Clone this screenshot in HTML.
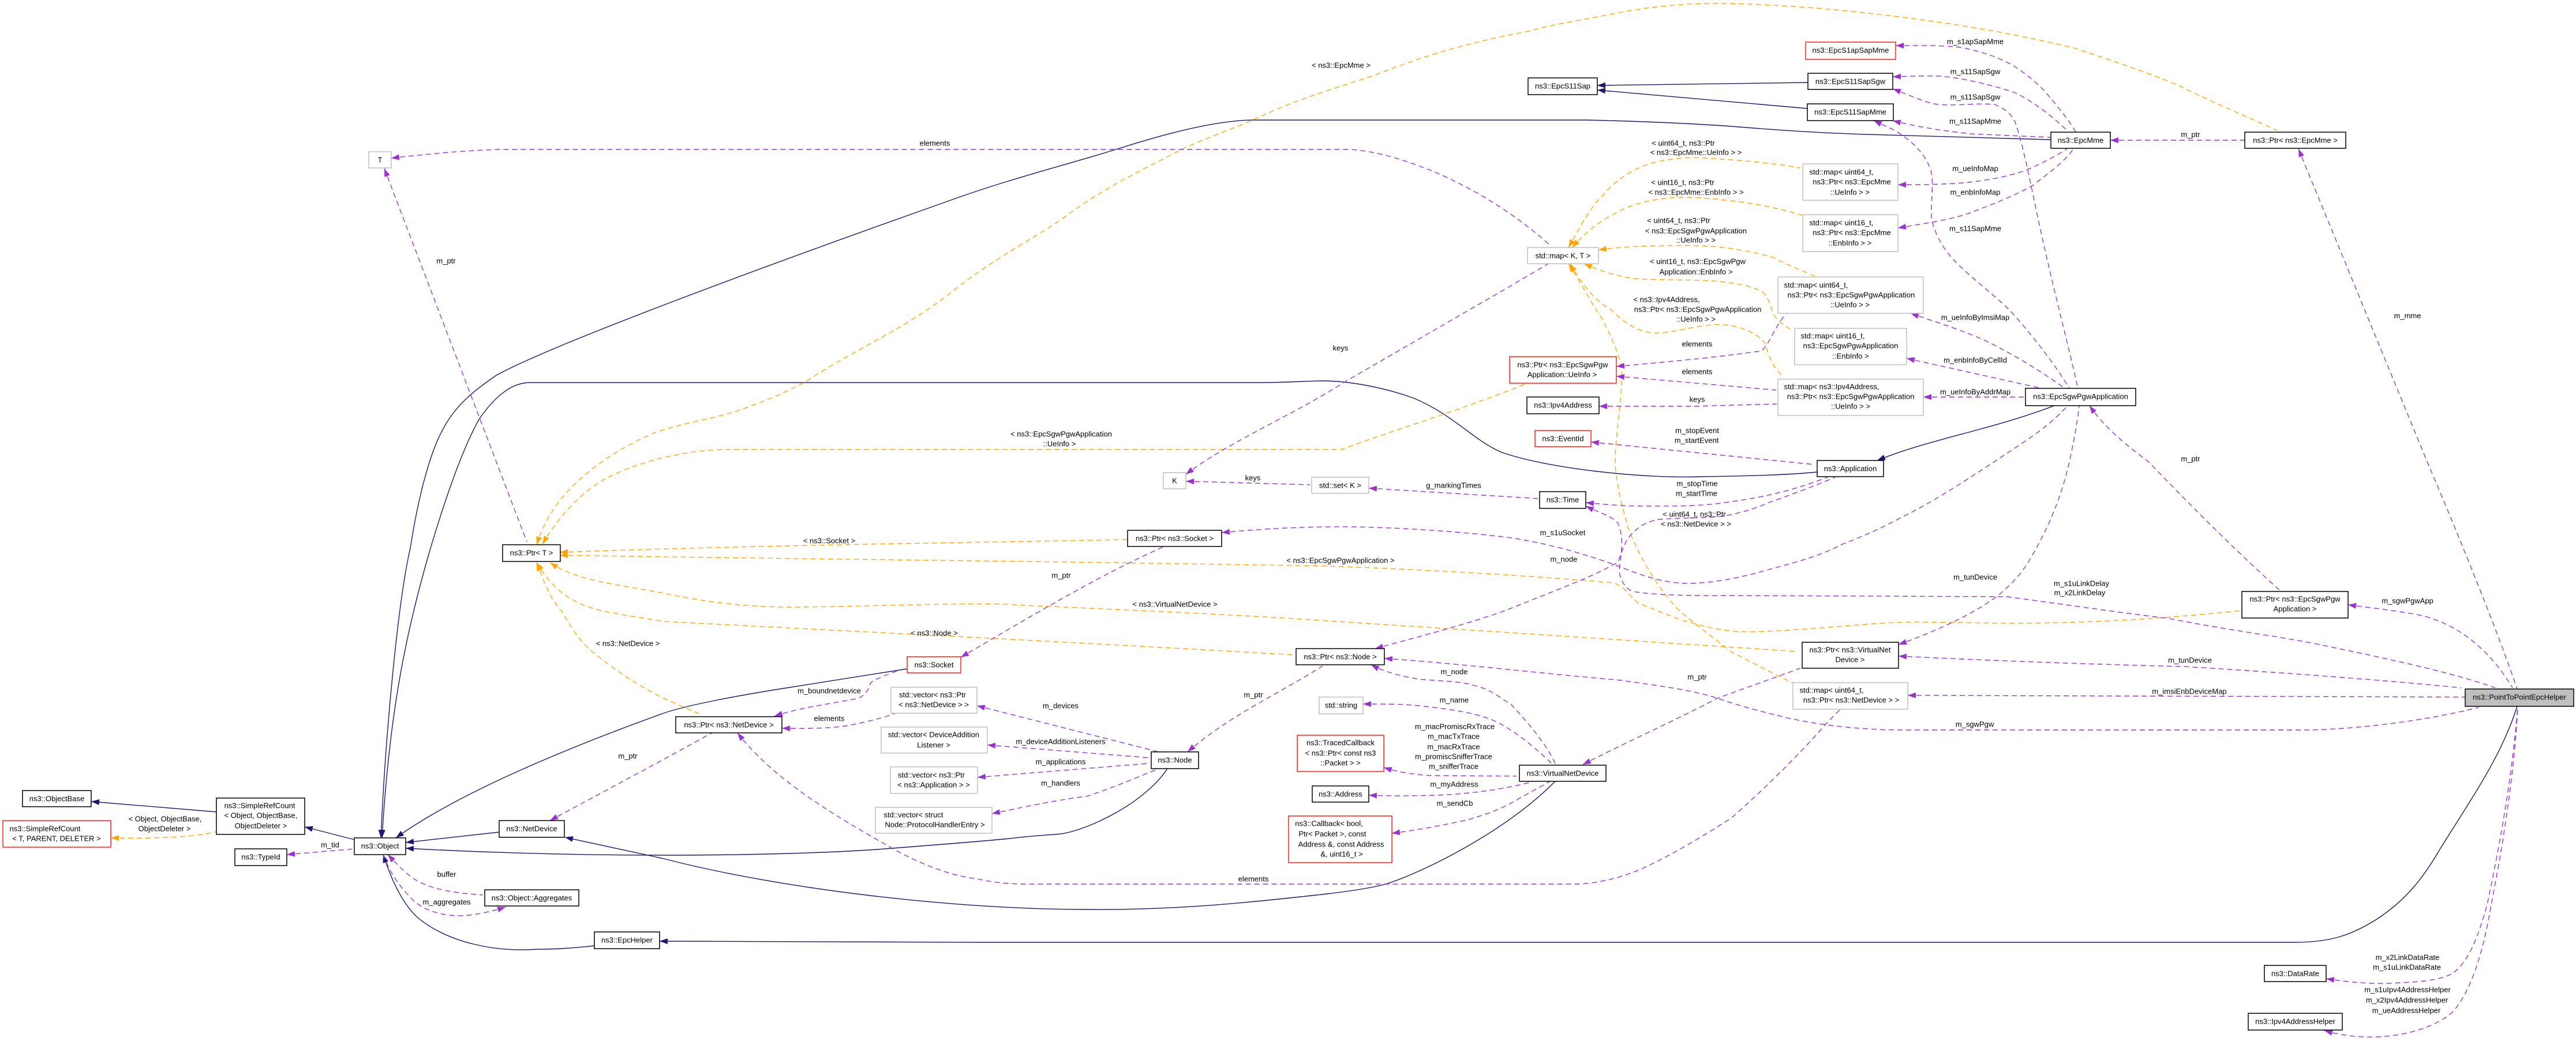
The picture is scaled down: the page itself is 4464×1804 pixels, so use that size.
<!DOCTYPE html>
<html><head><meta charset="utf-8">
<style>
html,body{margin:0;padding:0;background:#fff}
svg{display:block}
text{font-family:"Liberation Sans",Arial,sans-serif;font-size:13px;fill:#000;text-anchor:middle;dominant-baseline:central}
rect{fill:#fff;stroke-width:1.5}
.k{stroke:#000}.r{stroke:#ff2020}.g{stroke:#bfbfbf}
path{fill:none;stroke-width:1.4}
.n{stroke:#191970;marker-start:url(#an)}
.o{stroke:#ffa500;stroke-dasharray:9 6;marker-start:url(#ao)}
.p{stroke:#9a32cd;stroke-dasharray:9 6;marker-start:url(#ap)}
marker path{stroke:none}
</style></head><body>
<svg xmlns="http://www.w3.org/2000/svg" width="4464" height="1804" viewBox="0 0 4464 1804">
<defs>
<marker id="an" markerUnits="userSpaceOnUse" markerWidth="16" markerHeight="12" refX="14" refY="6" orient="auto-start-reverse"><path d="M0,1 L14,6 L0,11Z" style="fill:#191970"/></marker>
<marker id="ao" markerUnits="userSpaceOnUse" markerWidth="16" markerHeight="12" refX="14" refY="6" orient="auto-start-reverse"><path d="M0,1 L14,6 L0,11Z" style="fill:#ffa500"/></marker>
<marker id="ap" markerUnits="userSpaceOnUse" markerWidth="16" markerHeight="12" refX="14" refY="6" orient="auto-start-reverse"><path d="M0,1 L14,6 L0,11Z" style="fill:#9a32cd"/></marker>
</defs>

<!-- inheritance -->
<path class="n" d="M660,1452 C668,1270 690,1040 711,950 C725,860 745,785 767,745 C790,700 825,675 859,651 C950,600 1300,470 1650,346 C1750,310 1850,285 1937,258 C2040,225 2120,208 2173,208 L2747,208 C2850,210 2950,215 3014,220 C3100,227 3170,231 3238,233 L3553,242"/>
<path class="n" d="M662,1452 C675,1230 705,1090 746,950 C770,870 800,780 830,727 C855,690 885,663 918,663 L2180,663 C2230,663 2270,660 2290,660 C2340,660 2400,672 2450,690 C2520,720 2550,760 2600,783 C2680,812 2850,830 2950,826 C3030,825 3100,823 3149,818"/>
<path class="n" d="M3253,798 C3340,762 3450,745 3560,703"/>
<path class="n" d="M703,1460 L865,1442"/>
<path class="n" d="M686,1452 C800,1370 1000,1290 1150,1236 C1190,1222 1280,1205 1370,1191 L1572,1159"/>
<path class="n" d="M703,1470 C850,1478 1000,1482 1150,1482 C1300,1482 1450,1478 1546,1470 C1650,1462 1700,1458 1751,1453 C1790,1448 1820,1447 1839,1445 C1890,1437 1985,1390 2023,1332"/>
<path class="n" d="M979,1451 L1150,1488 C1350,1540 1650,1576 1883,1576 C2050,1578 2200,1560 2300,1549 C2350,1543 2380,1538 2402,1532 C2470,1510 2610,1440 2695,1354"/>
<path class="n" d="M664,1481 C680,1530 700,1570 726,1592 C780,1635 860,1650 931,1645 C970,1645 1000,1642 1030,1639"/>
<path class="n" d="M1143,1631 C1300,1633 1500,1633 1700,1633 L3976,1633 C4040,1633 4075,1620 4117,1594 C4170,1560 4200,1520 4228,1472 C4285,1380 4335,1310 4362,1224"/>
<path class="n" d="M528,1433 L614,1455"/>
<path class="n" d="M158,1389 L375,1407"/>
<path class="n" d="M2768,148 L3133,143"/>
<path class="n" d="M2768,156 L3132,188"/>

<!-- template -->
<path class="o" d="M192,1452 C240,1453 330,1453 375,1441"/>
<path class="o" d="M930,944 C950,880 990,840 1034,807 C1070,780 1100,765 1134,750 C1190,730 1250,725 1302,703 C1340,690 1370,675 1395,662 C1490,600 1570,570 1657,500 C1720,450 1780,420 1841,379 C1920,320 1990,290 2045,260 C2100,235 2140,222 2173,207 C2250,170 2310,155 2383,130 C2470,95 2560,70 2650,54 C2690,42 2750,33 2791,25 C2860,10 2930,5 2995,6 C3080,8 3170,15 3238,23 C3350,35 3480,55 3597,84 C3660,105 3720,125 3775,148 C3840,180 3900,205 3946,226"/>
<path class="o" d="M940,943 C965,900 1000,860 1040,835 C1090,805 1180,779 1262,779 L2325,779 C2400,750 2520,715 2647,664"/>
<path class="o" d="M970,957 C1300,945 1700,940 1954,935"/>
<path class="o" d="M970,962 C1300,968 1800,972 2300,981 C2500,988 2680,1000 2797,1010 C2820,1020 2825,1035 2840,1046 C2880,1060 2900,1072 2938,1081 C2980,1093 3010,1095 3033,1095 C3120,1093 3210,1082 3300,1078 C3380,1078 3430,1080 3486,1080 C3650,1080 3790,1068 3885,1058"/>
<path class="o" d="M953,975 C980,992 1000,998 1023,1004 C1070,1015 1110,1020 1150,1028 C1230,1045 1300,1052 1370,1052 C1450,1052 1650,1045 1737,1047 C1900,1055 2150,1065 2300,1076 C2600,1095 2900,1115 3116,1129"/>
<path class="o" d="M930,975 C950,1005 970,1040 1041,1058 C1080,1066 1110,1070 1150,1077 C1500,1095 1900,1115 2246,1135"/>
<path class="o" d="M930,975 C945,1015 955,1040 975,1061 C990,1090 1005,1110 1027,1130 C1070,1165 1110,1190 1150,1210 L1216,1239"/>
<path class="o" d="M2718,429 C2740,390 2755,360 2779,337 C2800,312 2825,296 2855,285 C2890,274 2925,272 2957,274 C3020,278 3070,282 3120,291"/>
<path class="o" d="M2724,429 C2755,395 2780,378 2810,364 C2850,345 2895,341 2932,342 C3000,346 3060,354 3123,373"/>
<path class="o" d="M2770,433 C2810,428 2840,426 2874,426 C2920,425 2960,425 2995,430 C3030,435 3050,440 3072,446 C3100,460 3125,470 3148,480"/>
<path class="o" d="M2745,457 C2780,472 2805,480 2836,483 C2880,486 2940,484 2983,488 C3015,492 3035,496 3053,505 C3068,518 3068,535 3075,547 C3085,560 3095,566 3107,573"/>
<path class="o" d="M2721,457 C2745,500 2770,525 2791,536 C2820,565 2845,578 2874,577 C2910,575 2950,560 2989,563 C3020,566 3045,578 3059,595 C3065,620 3075,640 3091,653"/>
<path class="o" d="M2718,457 C2740,490 2760,530 2775,550 C2790,580 2805,610 2810,639 C2812,700 2795,770 2800,818 C2805,860 2815,890 2823,920 C2845,970 2870,1015 2906,1054 C2940,1085 2970,1105 3001,1130 C3040,1150 3075,1168 3107,1184"/>

<!-- members -->
<path class="p" d="M678,274 C740,267 800,261 866,259 L2339,259 C2390,262 2440,280 2479,295 C2540,320 2620,365 2686,425"/>
<path class="p" d="M666,292 L913,939"/>
<path class="p" d="M2055,822 C2130,765 2240,720 2330,662 L2610,500 L2683,457"/>
<path class="p" d="M2055,834 L2270,840"/>
<path class="p" d="M2372,846 L2665,864"/>
<path class="p" d="M2117,923 C2200,915 2280,912 2350,913 C2440,915 2540,922 2619,932 C2700,945 2760,965 2810,983 C2850,1000 2890,1011 2925,1011 C2975,1010 3020,1000 3065,987 C3110,975 3150,965 3193,943 C3240,925 3270,910 3300,894 C3350,870 3410,830 3456,800 C3500,770 3545,745 3582,704"/>
<path class="p" d="M2383,1124 C2470,1100 2550,1080 2619,1054 C2690,1025 2760,1000 2804,974 C2812,950 2815,945 2820,934 C2835,915 2850,905 2874,900 C2920,897 2960,898 2989,894 C3020,888 3045,880 3065,871 C3110,855 3150,840 3180,827"/>
<path class="p" d="M2748,871 C2790,875 2815,877 2842,877 C2900,877 2950,878 3001,869 C3070,860 3120,845 3167,827"/>
<path class="p" d="M2748,877 C2775,890 2795,895 2804,907 C2812,925 2810,945 2810,952 C2808,975 2805,985 2807,996 C2812,1012 2818,1020 2829,1025 C2880,1033 2950,1032 3001,1032 L3478,1034 C3560,1045 3660,1060 3760,1072 C3850,1090 3930,1100 4005,1114 C4130,1140 4250,1165 4324,1192"/>
<path class="p" d="M2757,766 L3145,805"/>
<path class="p" d="M2801,635 C2880,628 2970,620 3053,608 C3070,590 3078,560 3097,543"/>
<path class="p" d="M2801,652 L3078,676"/>
<path class="p" d="M2771,704 L2938,704 L3079,700"/>
<path class="p" d="M3285,79 C3320,79 3360,78 3397,82 C3430,88 3460,98 3486,112 C3515,130 3535,148 3552,168 C3570,190 3590,215 3597,229"/>
<path class="p" d="M3280,133 C3310,132 3340,131 3365,132 C3410,137 3455,148 3493,161 C3530,180 3560,205 3582,226"/>
<path class="p" d="M3280,154 C3310,165 3335,178 3359,181 C3390,184 3425,178 3456,181 C3475,188 3488,200 3493,214 C3505,250 3515,300 3523,337 C3550,470 3580,580 3601,673"/>
<path class="p" d="M3280,209 C3330,222 3380,228 3416,232 L3553,238"/>
<path class="p" d="M3247,209 C3270,220 3285,225 3300,237 C3325,255 3345,280 3348,306 C3350,330 3345,360 3348,383 C3355,410 3370,435 3389,454 C3420,485 3455,510 3486,541 C3525,585 3560,630 3586,673"/>
<path class="p" d="M3289,320 C3330,320 3370,320 3411,316 C3445,312 3480,306 3508,296 C3535,285 3560,272 3582,258"/>
<path class="p" d="M3289,395 C3330,388 3375,382 3411,370 C3450,355 3490,340 3523,321 C3550,300 3578,280 3593,258"/>
<path class="p" d="M3311,543 C3360,560 3410,575 3448,594 C3490,615 3540,645 3578,673"/>
<path class="p" d="M3304,621 L3538,673"/>
<path class="p" d="M3333,688 L3510,688"/>
<path class="p" d="M3657,243 L3890,243"/>
<path class="p" d="M3983,258 L4206,800 C4270,950 4330,1100 4362,1194"/>
<path class="p" d="M3621,703 C3650,745 3690,775 3723,800 C3800,880 3880,960 3953,1025"/>
<path class="p" d="M4069,1048 C4120,1055 4170,1060 4206,1069 C4240,1080 4260,1092 4280,1107 C4310,1130 4335,1160 4354,1192"/>
<path class="p" d="M3290,1137 C3450,1145 3650,1152 3783,1155 C3950,1165 4150,1180 4265,1192"/>
<path class="p" d="M3290,1117 C3350,1095 3410,1070 3460,1034 C3490,1010 3510,985 3523,960 C3555,905 3575,850 3586,800 C3595,760 3600,730 3603,703"/>
<path class="p" d="M3306,1205 L4272,1208"/>
<path class="p" d="M2399,1141 C2530,1150 2650,1165 2810,1179 C2870,1188 2930,1195 2976,1210 C3020,1225 3060,1235 3097,1244 C3160,1258 3230,1265 3300,1265 L4005,1265 C4110,1262 4220,1245 4295,1226"/>
<path class="p" d="M2376,1152 C2400,1165 2430,1172 2459,1177 C2490,1180 2530,1180 2555,1188 C2585,1195 2600,1210 2619,1221 C2650,1255 2680,1290 2695,1323"/>
<path class="p" d="M2362,1220 C2400,1220 2430,1220 2459,1223 C2510,1228 2555,1235 2587,1248 C2625,1265 2665,1300 2689,1323"/>
<path class="p" d="M2743,1325 C2820,1285 2900,1250 2976,1210 L3120,1158"/>
<path class="p" d="M2398,1330 C2430,1340 2460,1344 2491,1344 L2628,1345"/>
<path class="p" d="M2372,1378 C2420,1380 2450,1379 2491,1378 C2560,1375 2620,1365 2657,1354"/>
<path class="p" d="M2412,1444 C2460,1438 2500,1430 2542,1421 C2580,1410 2605,1400 2625,1388 L2686,1354"/>
<path class="p" d="M1278,1270 C1340,1350 1440,1410 1546,1470 C1600,1500 1650,1518 1693,1523 C1725,1530 1750,1532 1781,1532 L2727,1532 C2765,1532 2805,1522 2842,1507 C2900,1480 2950,1450 3001,1417 C3060,1365 3125,1300 3161,1258 L3190,1228"/>
<path class="p" d="M1342,1241 C1390,1225 1440,1220 1487,1210 C1500,1205 1505,1195 1509,1183 C1520,1175 1540,1168 1557,1162"/>
<path class="p" d="M1355,1262 C1400,1263 1440,1262 1465,1258 C1500,1252 1525,1245 1550,1237"/>
<path class="p" d="M953,1422 L1150,1316 L1234,1270"/>
<path class="p" d="M1665,1139 C1800,1060 1900,1000 2015,948"/>
<path class="p" d="M2058,1303 C2130,1240 2220,1200 2292,1154"/>
<path class="p" d="M1693,1223 L2008,1303"/>
<path class="p" d="M1711,1291 L1990,1313"/>
<path class="p" d="M1694,1347 L1990,1323"/>
<path class="p" d="M1719,1410 C1790,1395 1840,1385 1883,1380 C1930,1365 1975,1345 2008,1332"/>
<path class="p" d="M497,1481 L614,1471"/>
<path class="p" d="M672,1481 C695,1505 710,1520 726,1528 C760,1545 800,1548 836,1551"/>
<path class="p" d="M876,1572 C850,1580 820,1587 792,1587 C755,1585 735,1575 719,1563 C690,1535 675,1510 664,1481"/>
<path class="p" d="M4031,1696 C4070,1702 4105,1705 4139,1704 C4190,1702 4225,1700 4250,1687 C4280,1665 4295,1620 4310,1568 C4335,1450 4355,1330 4363,1224"/>
<path class="p" d="M4028,1786 C4060,1795 4090,1798 4117,1797 C4170,1795 4220,1780 4250,1754 C4285,1715 4305,1640 4317,1568 C4340,1450 4358,1330 4363,1224"/>

<!-- nodes -->
<rect class="k" x="39" y="1370" width="119" height="28"/><text x="98.5" y="1384">ns3::ObjectBase</text>
<rect class="r" x="5" y="1422" width="187" height="46"/><text x="78" y="1436">ns3::SimpleRefCount</text><text x="98" y="1453">&lt; T, PARENT, DELETER &gt;</text>
<rect class="k" x="375" y="1383" width="153" height="63"/><text x="450" y="1396">ns3::SimpleRefCount</text><text x="452" y="1413">&lt; Object, ObjectBase,</text><text x="452" y="1431">ObjectDeleter &gt;</text>
<rect class="k" x="614" y="1452" width="89" height="29"/><text x="658.5" y="1466">ns3::Object</text>
<rect class="k" x="407" y="1471" width="90" height="29"/><text x="452" y="1485">ns3::TypeId</text>
<rect class="k" x="865" y="1422" width="113" height="29"/><text x="921.5" y="1436">ns3::NetDevice</text>
<rect class="k" x="840" y="1542" width="163" height="28"/><text x="921.5" y="1556">ns3::Object::Aggregates</text>
<rect class="k" x="1030" y="1615" width="113" height="29"/><text x="1086.5" y="1629">ns3::EpcHelper</text>
<rect class="k" x="871" y="944" width="100" height="29"/><text x="921" y="958">ns3::Ptr&lt; T &gt;</text>
<rect class="g" x="639" y="263" width="39" height="28"/><text x="658.5" y="277">T</text>
<rect class="k" x="1954" y="919" width="163" height="28"/><text x="2035.5" y="933">ns3::Ptr&lt; ns3::Socket &gt;</text>
<rect class="r" x="1572" y="1138" width="93" height="28"/><text x="1618.5" y="1152">ns3::Socket</text>
<rect class="k" x="1171" y="1242" width="184" height="28"/><text x="1263" y="1256">ns3::Ptr&lt; ns3::NetDevice &gt;</text>
<rect class="g" x="1544" y="1191" width="149" height="45"/><text x="1616" y="1204">std::vector&lt; ns3::Ptr</text><text x="1618" y="1221">&lt; ns3::NetDevice &gt; &gt;</text>
<rect class="g" x="1527" y="1260" width="184" height="45"/><text x="1618" y="1273">std::vector&lt; DeviceAddition</text><text x="1618" y="1291">Listener &gt;</text>
<rect class="g" x="1543" y="1329" width="151" height="46"/><text x="1614" y="1343">std::vector&lt; ns3::Ptr</text><text x="1618" y="1360">&lt; ns3::Application &gt; &gt;</text>
<rect class="g" x="1517" y="1399" width="202" height="45"/><text x="1583" y="1412">std::vector&lt; struct</text><text x="1620" y="1429">Node::ProtocolHandlerEntry &gt;</text>
<rect class="k" x="1995" y="1303" width="82" height="29"/><text x="2036" y="1317">ns3::Node</text>
<rect class="k" x="2246" y="1124" width="153" height="28"/><text x="2322.5" y="1138">ns3::Ptr&lt; ns3::Node &gt;</text>
<rect class="g" x="2016" y="819" width="39" height="28"/><text x="2035.5" y="833">K</text>
<rect class="g" x="2273" y="827" width="99" height="28"/><text x="2322.5" y="841">std::set&lt; K &gt;</text>
<rect class="g" x="2286" y="1208" width="76" height="29"/><text x="2324" y="1222">std::string</text>
<rect class="r" x="2248" y="1274" width="150" height="63"/><text x="2323" y="1287">ns3::TracedCallback</text><text x="2323" y="1305">&lt; ns3::Ptr&lt; const ns3</text><text x="2323" y="1322">::Packet &gt; &gt;</text>
<rect class="k" x="2274" y="1362" width="98" height="28"/><text x="2323" y="1376">ns3::Address</text>
<rect class="r" x="2233" y="1414" width="179" height="81"/><text x="2303" y="1427">ns3::Callback&lt; bool,</text><text x="2309" y="1445">Ptr&lt; Packet &gt;, const</text><text x="2324" y="1463">Address &amp;, const Address</text><text x="2325" y="1480">&amp;, uint16_t &gt;</text>
<rect class="k" x="2633" y="1326" width="150" height="28"/><text x="2708" y="1340">ns3::VirtualNetDevice</text>
<rect class="r" x="2616" y="618" width="185" height="46"/><text x="2708" y="632">ns3::Ptr&lt; ns3::EpcSgwPgw</text><text x="2707" y="649">Application::UeInfo &gt;</text>
<rect class="k" x="2646" y="688" width="125" height="29"/><text x="2708.5" y="702">ns3::Ipv4Address</text>
<rect class="r" x="2660" y="746" width="97" height="28"/><text x="2708.5" y="760">ns3::EventId</text>
<rect class="k" x="2668" y="852" width="80" height="29"/><text x="2708" y="866">ns3::Time</text>
<rect class="k" x="3149" y="798" width="115" height="28"/><text x="3206.5" y="812">ns3::Application</text>
<rect class="g" x="3110" y="569" width="194" height="63"/><text x="3176" y="582">std::map&lt; uint16_t,</text><text x="3207" y="599">ns3::EpcSgwPgwApplication</text><text x="3207" y="617">::EnbInfo &gt;</text>
<rect class="g" x="3081" y="657" width="252" height="63"/><text x="3174" y="670">std::map&lt; ns3::Ipv4Address,</text><text x="3207" y="687">ns3::Ptr&lt; ns3::EpcSgwPgwApplication</text><text x="3207" y="704">::UeInfo &gt; &gt;</text>
<rect class="k" x="3123" y="1113" width="167" height="45"/><text x="3206" y="1126">ns3::Ptr&lt; ns3::VirtualNet</text><text x="3206" y="1143">Device &gt;</text>
<rect class="g" x="3107" y="1183" width="199" height="46"/><text x="3174" y="1196">std::map&lt; uint64_t,</text><text x="3208" y="1213">ns3::Ptr&lt; ns3::NetDevice &gt; &gt;</text>
<rect class="k" x="2648" y="135" width="120" height="29"/><text x="2708" y="149">ns3::EpcS11Sap</text>
<rect class="r" x="3129" y="73" width="156" height="30"/><text x="3207" y="87">ns3::EpcS1apSapMme</text>
<rect class="k" x="3133" y="127" width="147" height="28"/><text x="3206.5" y="141">ns3::EpcS11SapSgw</text>
<rect class="k" x="3132" y="180" width="149" height="29"/><text x="3206.5" y="194">ns3::EpcS11SapMme</text>
<rect class="g" x="3124" y="284" width="165" height="63"/><text x="3191" y="298">std::map&lt; uint64_t,</text><text x="3209" y="315">ns3::Ptr&lt; ns3::EpcMme</text><text x="3206" y="333">::UeInfo &gt; &gt;</text>
<rect class="g" x="3124" y="372" width="165" height="64"/><text x="3191" y="386">std::map&lt; uint16_t,</text><text x="3209" y="403">ns3::Ptr&lt; ns3::EpcMme</text><text x="3206" y="421">::EnbInfo &gt; &gt;</text>
<rect class="g" x="2647" y="429" width="123" height="28"/><text x="2708.5" y="443">std::map&lt; K, T &gt;</text>
<rect class="g" x="3081" y="480" width="252" height="63"/><text x="3147" y="494">std::map&lt; uint64_t,</text><text x="3208" y="511">ns3::Ptr&lt; ns3::EpcSgwPgwApplication</text><text x="3206" y="528">::UeInfo &gt; &gt;</text>
<rect class="k" x="3554" y="229" width="103" height="28"/><text x="3605.5" y="243">ns3::EpcMme</text>
<rect class="k" x="3890" y="229" width="175" height="28"/><text x="3977.5" y="243">ns3::Ptr&lt; ns3::EpcMme &gt;</text>
<rect class="k" x="3510" y="673" width="191" height="30"/><text x="3605.5" y="687">ns3::EpcSgwPgwApplication</text>
<rect class="k" x="3885" y="1025" width="184" height="46"/><text x="3977" y="1038">ns3::Ptr&lt; ns3::EpcSgwPgw</text><text x="3977" y="1055">Application &gt;</text>
<rect class="k" x="4272" y="1194" width="188" height="30" style="fill:#bfbfbf"/><text x="4366" y="1208">ns3::PointToPointEpcHelper</text>
<rect class="k" x="3924" y="1673" width="107" height="28"/><text x="3977.5" y="1687">ns3::DataRate</text>
<rect class="k" x="3896" y="1756" width="163" height="29"/><text x="3977.5" y="1770">ns3::Ipv4AddressHelper</text>

<!-- edge labels -->
<text x="286" y="1419">&lt; Object, ObjectBase,</text><text x="285" y="1436">ObjectDeleter &gt;</text>
<text x="572" y="1464">m_tid</text><text x="774" y="1515">buffer</text><text x="774" y="1563">m_aggregates</text>
<text x="1088" y="1310">m_ptr</text><text x="1088" y="1115">&lt; ns3::NetDevice &gt;</text>
<text x="1437" y="937">&lt; ns3::Socket &gt;</text><text x="1839" y="997">m_ptr</text><text x="2036" y="1047">&lt; ns3::VirtualNetDevice &gt;</text>
<text x="1619" y="1097">&lt; ns3::Node &gt;</text><text x="1437" y="1197">m_boundnetdevice</text><text x="1437" y="1245">elements</text>
<text x="1838" y="1223">m_devices</text><text x="1838" y="1285">m_deviceAdditionListeners</text><text x="1838" y="1320">m_applications</text><text x="1838" y="1357">m_handlers</text>
<text x="2172" y="1204">m_ptr</text><text x="2172" y="1523">elements</text>
<text x="773" y="452">m_ptr</text><text x="1620" y="248">elements</text>
<text x="1839" y="752">&lt; ns3::EpcSgwPgwApplication</text><text x="1836" y="769">::UeInfo &gt;</text>
<text x="2324" y="113">&lt; ns3::EpcMme &gt;</text><text x="2323" y="603">keys</text><text x="2171" y="828">keys</text><text x="2519" y="841">g_markingTimes</text>
<text x="2323" y="971">&lt; ns3::EpcSgwPgwApplication &gt;</text><text x="2708" y="923">m_s1uSocket</text><text x="2710" y="969">m_node</text>
<text x="2941" y="596">elements</text><text x="2941" y="644">elements</text><text x="2941" y="692">keys</text>
<text x="2941" y="746">m_stopEvent</text><text x="2940" y="763">m_startEvent</text><text x="2941" y="838">m_stopTime</text><text x="2940" y="855">m_startTime</text>
<text x="2936" y="891">&lt; uint64_t, ns3::Ptr</text><text x="2939" y="908">&lt; ns3::NetDevice &gt; &gt;</text><text x="2941" y="1173">m_ptr</text>
<text x="2520" y="1164">m_node</text><text x="2520" y="1213">m_name</text>
<text x="2521" y="1259">m_macPromiscRxTrace</text><text x="2519" y="1276">m_macTxTrace</text><text x="2519" y="1294">m_macRxTrace</text><text x="2519" y="1311">m_promiscSnifferTrace</text><text x="2519" y="1328">m_snifferTrace</text>
<text x="2520" y="1359">m_myAddress</text><text x="2521" y="1392">m_sendCb</text>
<text x="3423" y="72">m_s1apSapMme</text><text x="3423" y="124">m_s11SapSgw</text><text x="3423" y="168">m_s11SapSgw</text><text x="3423" y="210">m_s11SapMme</text>
<text x="3423" y="292">m_ueInfoMap</text><text x="3423" y="333">m_enbInfoMap</text><text x="3423" y="396">m_s11SapMme</text><text x="3423" y="550">m_ueInfoByImsiMap</text>
<text x="2917" y="248">&lt; uint64_t, ns3::Ptr</text><text x="2939" y="264">&lt; ns3::EpcMme::UeInfo &gt; &gt;</text>
<text x="2916" y="316">&lt; uint16_t, ns3::Ptr</text><text x="2939" y="333">&lt; ns3::EpcMme::EnbInfo &gt; &gt;</text>
<text x="2909" y="382">&lt; uint64_t, ns3::Ptr</text><text x="2939" y="400">&lt; ns3::EpcSgwPgwApplication</text><text x="2939" y="416">::UeInfo &gt; &gt;</text>
<text x="2942" y="453">&lt; uint16_t, ns3::EpcSgwPgw</text><text x="2939" y="471">Application::EnbInfo &gt;</text>
<text x="2888" y="519">&lt; ns3::Ipv4Address,</text><text x="2942" y="536">ns3::Ptr&lt; ns3::EpcSgwPgwApplication</text><text x="2939" y="553">::UeInfo &gt; &gt;</text>
<text x="3796" y="233">m_ptr</text><text x="3423" y="679">m_ueInfoByAddrMap</text><text x="3423" y="624">m_enbInfoByCellId</text><text x="3796" y="795">m_ptr</text><text x="4172" y="547">m_mme</text>
<text x="3423" y="1000">m_tunDevice</text><text x="3607" y="1011">m_s1uLinkDelay</text><text x="3604" y="1027">m_x2LinkDelay</text><text x="4172" y="1041">m_sgwPgwApp</text>
<text x="3795" y="1144">m_tunDevice</text><text x="3794" y="1198">m_imsiEnbDeviceMap</text><text x="3422" y="1255">m_sgwPgw</text>
<text x="4172" y="1659">m_x2LinkDataRate</text><text x="4171" y="1676">m_s1uLinkDataRate</text>
<text x="4172" y="1715">m_s1uIpv4AddressHelper</text><text x="4171" y="1733">m_x2Ipv4AddressHelper</text><text x="4170" y="1751">m_ueAddressHelper</text>
</svg>
</body></html>
